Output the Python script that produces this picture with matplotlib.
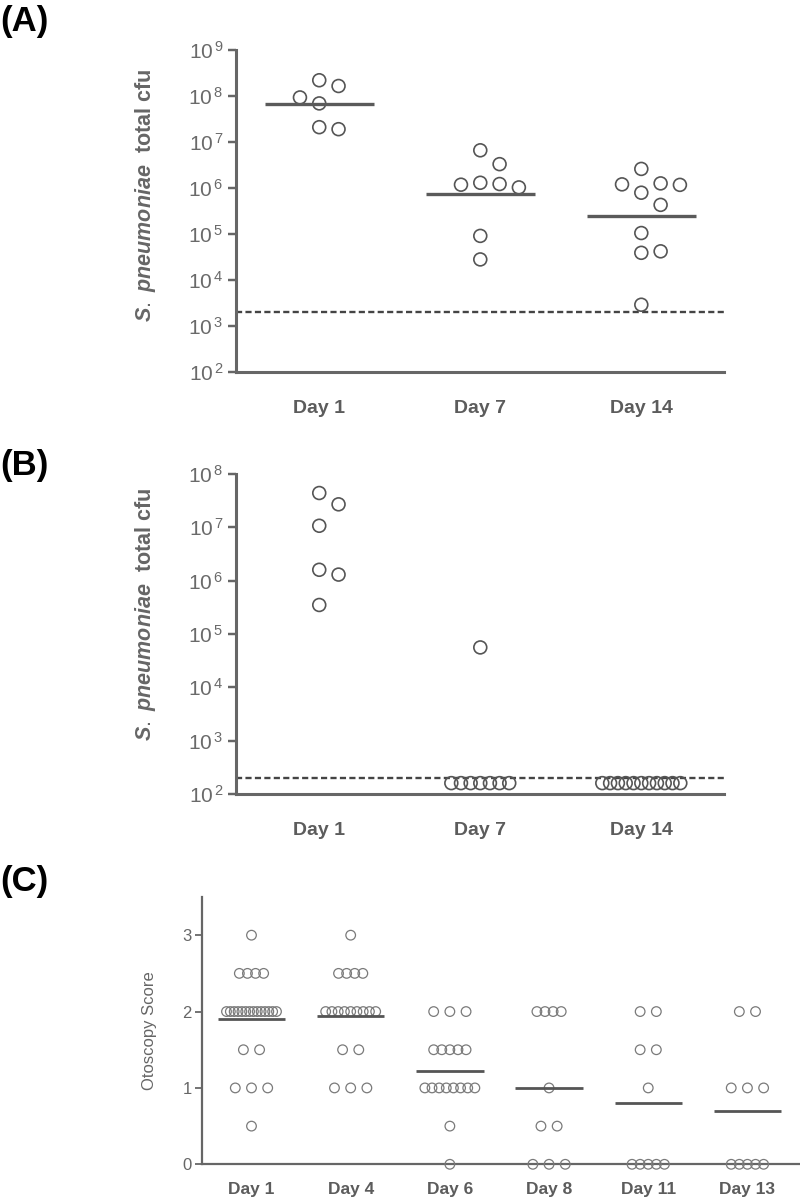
import numpy as np
import matplotlib
matplotlib.use('Agg')
import matplotlib.pyplot as plt
from matplotlib.ticker import FixedLocator, FuncFormatter, NullLocator

plt.rcParams['font.family'] = ['Liberation Sans', 'DejaVu Sans']
plt.rcParams['mathtext.fontset'] = 'custom'
plt.rcParams['mathtext.rm'] = 'Liberation Sans'
plt.rcParams['mathtext.it'] = 'Liberation Sans:italic:bold'
plt.rcParams['mathtext.default'] = 'regular'

# ---- data ----
days_ab = ['Day 1', 'Day 7', 'Day 14']

cfu_a_day1 = [2.2e8, 1.65e8, 9.3e7, 6.9e7, 2.1e7, 1.9e7]
cfu_a_day7 = [6.6e6, 3.3e6, 1.3e6, 1.22e6, 1.18e6, 1.03e6, 9.1e4, 2.8e4]
cfu_a_day14 = [2.6e6, 1.26e6, 1.2e6, 1.17e6, 7.9e5, 4.3e5, 1.05e5, 4.2e4, 3.9e4, 2.9e3]
limit_a = 2.0e3

cfu_b_day1 = [4.4e7, 2.7e7, 1.07e7, 1.6e6, 1.3e6, 3.5e5]
cfu_b_day7 = [5.6e4, 160, 160, 160, 160, 160, 160, 160]
cfu_b_day14 = [160, 160, 160, 160, 160, 160, 160, 160, 160, 160, 160]
limit_b = 200

days_c = ['Day 1', 'Day 4', 'Day 6', 'Day 8', 'Day 11', 'Day 13']
score_day1 = [3, 2.5, 2.5, 2.5, 2.5,
              2, 2, 2, 2, 2, 2, 2, 2, 2, 2, 2, 2, 2, 2,
              1.5, 1.5, 1, 1, 1, 0.5]
score_day4 = [3, 2.5, 2.5, 2.5, 2.5,
              2, 2, 2, 2, 2, 2, 2, 2, 2,
              1.5, 1.5, 1, 1, 1]
score_day6 = [2, 2, 2, 1.5, 1.5, 1.5, 1.5, 1.5,
              1, 1, 1, 1, 1, 1, 1, 1, 0.5, 0]
score_day8 = [2, 2, 2, 2, 1, 0.5, 0.5, 0, 0, 0]
score_day11 = [2, 2, 1.5, 1.5, 1, 0, 0, 0, 0, 0]
score_day13 = [2, 2, 1, 1, 1, 0, 0, 0, 0, 0]

AX_COL = '#666666'
TXT_COL = '#666666'
DOT_COL = '#555555'

fig = plt.figure(figsize=(8, 12), dpi=100)


def layout_offsets(ax, x0, vals, step, cap):
    # pixel offsets: tied values go in a row, the rest get a simple swarm
    vals = np.asarray(vals, float)
    ypx = ax.transData.transform(np.column_stack([np.full(len(vals), x0), vals]))[:, 1]
    off = np.zeros(len(vals))
    placed = []
    uniq, counts = np.unique(vals, return_counts=True)
    for u, n in zip(uniq, counts):
        if n < 2:
            continue
        idx = np.where(vals == u)[0]
        sp = step if n <= 3 else step / 2
        if sp * (n - 1) > cap:
            sp = cap / (n - 1)
        row = (np.arange(n) - (n - 1) / 2) * sp
        off[idx] = row
        placed += [(r, ypx[i]) for r, i in zip(row, idx)]
    cands = [0.0]
    for k in range(1, 6):
        cands += [k * step, -k * step]
    singles = [i for i in np.argsort(-vals) if np.sum(vals == vals[i]) == 1]
    for i in singles:
        for c in cands:
            if all(np.hypot(c - px, ypx[i] - py) >= step - 0.5 for px, py in placed):
                break
        off[i] = c
        placed.append((c, ypx[i]))
    # px -> data units
    xr = ax.get_xlim()
    return off * (xr[1] - xr[0]) / ax.bbox.width


def style_axes(ax, lw):
    for s in ['top', 'right']:
        ax.spines[s].set_visible(False)
    for s in ['left', 'bottom']:
        ax.spines[s].set_color(AX_COL)
        ax.spines[s].set_linewidth(lw)
    ax.tick_params(axis='x', length=0)
    ax.tick_params(axis='y', direction='out', color=AX_COL, width=lw * 0.8)


AB_LEFT, AB_RIGHT = 236, 723.6   # px


def log_panel(top_px, bot_px, groups, limit, ymax, show_mean, ylabel_y, tag, tag_y):
    ax = fig.add_axes([AB_LEFT / 800, 1 - bot_px / 1200,
                       (AB_RIGHT - AB_LEFT) / 800, (bot_px - top_px) / 1200])
    ax.set_yscale('log')
    ax.set_xlim(-0.517, 2.511)
    ax.set_ylim(1e2, ymax)
    style_axes(ax, 2.2)
    exps = np.arange(2, int(round(np.log10(ymax))) + 1)
    ax.yaxis.set_major_locator(FixedLocator(10.0 ** exps))
    ax.yaxis.set_minor_locator(NullLocator())
    ax.yaxis.set_major_formatter(FuncFormatter(
        lambda v, _: r'$10^{\,%d}$' % int(round(np.log10(v)))))
    ax.tick_params(axis='y', length=6, pad=3, labelsize=15, labelcolor='#6a6a6a')
    ax.set_xticks(range(len(days_ab)))
    ax.set_xticklabels(days_ab, fontsize=14, fontweight='bold', color='#5c5c5c')
    ax.tick_params(axis='x', pad=20)

    for gx, vals in enumerate(groups):
        dx = layout_offsets(ax, gx, vals, 19.3, 78)
        ax.scatter(gx + dx, vals, s=86, facecolors='none', edgecolors=DOT_COL,
                   linewidths=1.2, zorder=3, clip_on=False)
        if show_mean:
            gm = 10 ** np.mean(np.log10(vals))
            ax.plot([gx - 0.34, gx + 0.34], [gm, gm], color='#5a5a5a', lw=2.4,
                    solid_capstyle='butt', zorder=4)

    ax.axhline(limit, color='#444444', lw=1.7, ls=(0, (2.6, 1.4)), zorder=2)

    ax.set_ylabel(r'$\mathit{S.\ pneumoniae}$  total cfu', fontsize=15.5,
                  fontweight='bold', color='#666666')
    ax.yaxis.set_label_coords((158 - AB_LEFT) / (AB_RIGHT - AB_LEFT), ylabel_y)
    fig.text(0.0, tag_y, tag, fontsize=25, fontweight='bold', color='black',
             ha='left', va='center')
    return ax


# (A)
log_panel(50, 372, [cfu_a_day1, cfu_a_day7, cfu_a_day14], limit_a, 1e9, True,
          0.55, '(A)', 1 - 21 / 1200)

# (B)
log_panel(474, 794, [cfu_b_day1, cfu_b_day7, cfu_b_day14], limit_b, 1e8, False,
          0.56, '(B)', 1 - 465 / 1200)

# (C)
C_LEFT = 201.7
axc = fig.add_axes([C_LEFT / 800, 1 - 1164.3 / 1200, (800 - C_LEFT) / 800, 267.3 / 1200])
axc.set_xlim(-0.502, 5.53)
axc.set_ylim(0, 3.5)
style_axes(axc, 1.6)
axc.set_yticks([0, 1, 2, 3])
axc.set_yticklabels(['0', '1', '2', '3'])
axc.tick_params(axis='y', length=5, pad=2, labelsize=12, labelcolor=TXT_COL)
axc.set_xticks(range(len(days_c)))
axc.set_xticklabels(days_c, fontsize=12.5, fontweight='bold', color='#5c5c5c')
axc.tick_params(axis='x', pad=13)

scores = [score_day1, score_day4, score_day6, score_day8, score_day11, score_day13]
for gx, vals in enumerate(scores):
    dx = layout_offsets(axc, gx, vals, 16.2, 50)
    axc.scatter(gx + dx, vals, s=48, facecolors='none', edgecolors='#7a7a7a',
                linewidths=0.9, zorder=3, clip_on=False)
    m = np.mean(vals)
    axc.plot([gx - 0.34, gx + 0.34], [m, m], color='#555555', lw=2.0,
             solid_capstyle='butt', zorder=4)

axc.set_ylabel('Otoscopy Score', fontsize=12, color=TXT_COL)
axc.yaxis.set_label_coords((157 - C_LEFT) / (800 - C_LEFT), 0.5)
fig.text(0.0, 1 - 882 / 1200, '(C)', fontsize=25, fontweight='bold', color='black',
         ha='left', va='center')

fig.savefig('out.png', dpi=100, facecolor='white')
